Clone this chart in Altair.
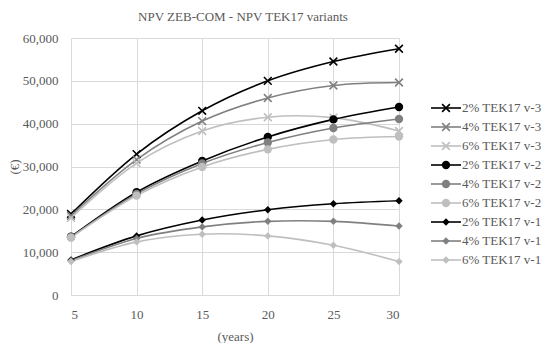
import altair as alt
import pandas as pd

years = [5, 10, 15, 20, 25, 30]
series_names = [
    "2% TEK17 v-3", "4% TEK17 v-3", "6% TEK17 v-3",
    "2% TEK17 v-2", "4% TEK17 v-2", "6% TEK17 v-2",
    "2% TEK17 v-1", "4% TEK17 v-1", "6% TEK17 v-1",
]
v3_2 = [18900, 32900, 43000, 50000, 54500, 57500]
v3_4 = [18500, 31600, 40600, 46000, 48900, 49600]
v3_6 = [18000, 30800, 38300, 41500, 41400, 38300]
v2_2 = [13600, 24000, 31300, 36900, 41000, 43900]
v2_4 = [13500, 23600, 30700, 35600, 39000, 41100]
v2_6 = [13400, 23200, 29900, 34000, 36300, 37000]
v1_2 = [8200, 13800, 17500, 19900, 21300, 22000]
v1_4 = [8000, 13200, 15900, 17200, 17200, 16100]
v1_6 = [7800, 12400, 14200, 13800, 11600, 7800]
all_vals = [v3_2, v3_4, v3_6, v2_2, v2_4, v2_6, v1_2, v1_4, v1_6]
variants = ["v-3"] * 3 + ["v-2"] * 3 + ["v-1"] * 3
colors = ["#000000", "#808080", "#bfbfbf"] * 3

rows = []
for name, var, vals in zip(series_names, variants, all_vals):
    for yr, v in zip(years, vals):
        rows.append({"series": name, "variant": var, "year": yr, "npv": v})
df = pd.DataFrame(rows)

leg_df = pd.DataFrame({"series": series_names, "variant": variants,
                       "idx": list(range(len(series_names)))})

FONT = "Liberation Serif"
TXT = "#595959"
color_scale = alt.Scale(domain=series_names, range=colors)
XPATH = "M-1,-1L1,1M-1,1L1,-1"

base = alt.Chart(df).encode(
    x=alt.X("year:Q", scale=alt.Scale(domain=[5, 30], nice=False),
            axis=alt.Axis(values=years, title="(years)", labelPadding=13,
                          titlePadding=9, domainColor="#d9d9d9")),
    y=alt.Y("npv:Q", scale=alt.Scale(domain=[0, 60000], nice=False),
            axis=alt.Axis(values=list(range(0, 60001, 10000)), format=",.0f",
                          title="(€)", labelPadding=13, titlePadding=1,
                          domain=False)),
    color=alt.Color("series:N", scale=color_scale, legend=None),
)

lines = base.mark_line(interpolate="cardinal", strokeWidth=1.6).encode(
    detail="series:N")
pts_x = base.transform_filter(alt.datum.variant == "v-3").mark_point(
    shape=XPATH, filled=False, size=60, strokeWidth=1.6, opacity=1)
pts_c = base.transform_filter(alt.datum.variant == "v-2").mark_point(
    shape="circle", filled=True, size=70, opacity=1)
pts_d = base.transform_filter(alt.datum.variant == "v-1").mark_point(
    shape="diamond", filled=True, size=55, opacity=1)

main = alt.layer(lines, pts_x, pts_c, pts_d).properties(
    width=328, height=257,
    title=alt.TitleParams("NPV ZEB-COM - NPV TEK17 variants", fontSize=13,
                          font=FONT, color=TXT, fontWeight="normal",
                          offset=8, dx=8),
)

lbase = alt.Chart(leg_df).encode(
    y=alt.Y("idx:Q", scale=alt.Scale(domain=[-3.684, 9.842], reverse=True,
                                     nice=False, zero=False), axis=None),
    color=alt.Color("series:N", scale=color_scale, legend=None),
)
lrule = lbase.mark_rule(strokeWidth=1.6).encode(x=alt.value(2), x2=alt.value(32))
lx = lbase.transform_filter(alt.datum.variant == "v-3").mark_point(
    shape=XPATH, filled=False, size=60, strokeWidth=1.6, opacity=1).encode(x=alt.value(17))
lc = lbase.transform_filter(alt.datum.variant == "v-2").mark_point(
    shape="circle", filled=True, size=70, opacity=1).encode(x=alt.value(17))
ld = lbase.transform_filter(alt.datum.variant == "v-1").mark_point(
    shape="diamond", filled=True, size=55, opacity=1).encode(x=alt.value(17))
ltext = lbase.mark_text(align="left", baseline="middle", font=FONT,
                        fontSize=13, color=TXT).encode(
    x=alt.value(33), text="series:N", color=alt.value(TXT))
legend = alt.layer(lrule, lx, lc, ld, ltext).properties(width=112, height=257)

chart = alt.hconcat(main, legend, spacing=22).properties(
    padding={"left": 0, "top": 3, "right": 0, "bottom": 0}
).configure_view(stroke=None).configure_axis(
    labelFont=FONT, titleFont=FONT, labelFontSize=13, titleFontSize=13,
    labelColor=TXT, titleColor=TXT, titleFontWeight="normal",
    gridColor="#d9d9d9", gridWidth=1, ticks=False,
)

chart.save("out.html", embed_options={"renderer": "svg", "actions": False})
